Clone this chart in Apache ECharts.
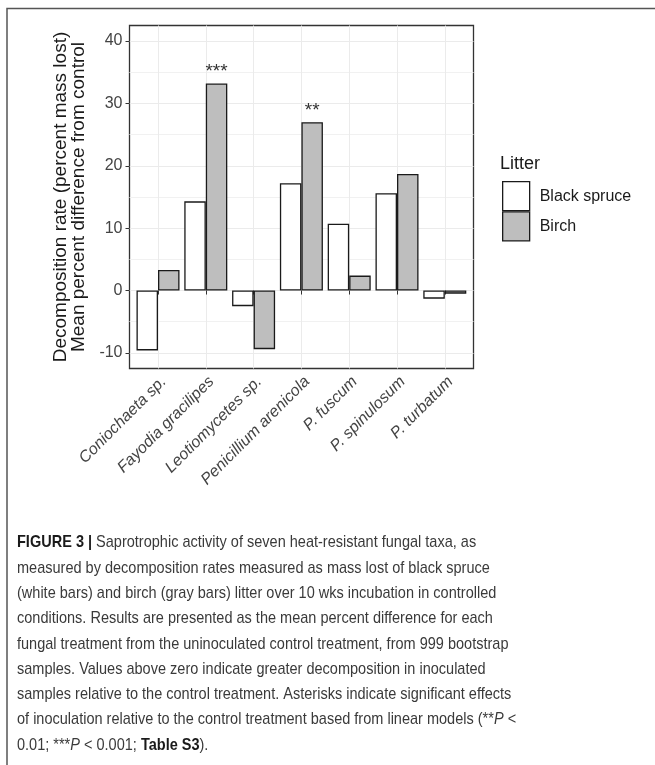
<!DOCTYPE html>
<html>
<head>
<meta charset="utf-8">
<script src="https://cdn.jsdelivr.net/npm/echarts@6/dist/echarts.min.js"></script>
<style>
html,body{margin:0;padding:0;background:#fff;}
#chart{width:655px;height:765px;}
</style>
</head>
<body>
<div id="chart"></div>
<script>
// ---- data ----
const categories = ['Coniochaeta sp.', 'Fayodia gracilipes', 'Leotiomycetes sp.', 'Penicillium arenicola', 'P. fuscum', 'P. spinulosum', 'P. turbatum'];
const blackSpruce = [-9.6, 14.3, -2.5, 17.2, 10.7, 15.6, -1.3];
const birch = [3.3, 33.2, -9.4, 27.0, 2.4, 18.7, -0.5];
const birchSignif = ['', '***', '', '**', '', '', ''];
const yTicks = [-10, 0, 10, 20, 30, 40];
const yMinorTicks = [-5, 5, 15, 25, 35];
const seriesNames = ['Black spruce', 'Birch'];
const legendTitle = 'Litter';
const yTitle = 'Decomposition rate (percent mass lost)\nMean percent difference from control';
const captionLines = [
  '{b|FIGURE 3 |} Saprotrophic activity of seven heat-resistant fungal taxa, as',
  'measured by decomposition rates measured as mass lost of black spruce',
  '(white bars) and birch (gray bars) litter over 10 wks incubation in controlled',
  'conditions. Results are presented as the mean percent difference for each',
  'fungal treatment from the uninoculated control treatment, from 999 bootstrap',
  'samples. Values above zero indicate greater decomposition in inoculated',
  'samples relative to the control treatment. Asterisks indicate significant effects',
  'of inoculation relative to the control treatment based from linear models (**{i|P} <',
  '0.01; ***{i|P} < 0.001; {b|Table S3}).'
];

const FONT = '"Liberation Sans", Arial, sans-serif';

const chart = echarts.init(document.getElementById('chart'), null, {renderer: 'canvas'});
const yMin = -12.5, yMax = 42.5;

const option = {
  backgroundColor: '#fff',
  animation: false,
  title: {
    text: legendTitle, left: 500, top: 155, padding: 0,
    textStyle: {fontFamily: FONT, fontSize: 18, fontWeight: 'normal', color: '#1a1a1a'}
  },
  legend: {
    data: seriesNames, orient: 'vertical', left: 502, top: 181, padding: 0,
    itemWidth: 27, itemHeight: 29, itemGap: 0, icon: 'rect',
    itemStyle: {borderColor: '#1a1a1a', borderWidth: 1.3},
    textStyle: {fontFamily: FONT, fontSize: 16, color: '#1a1a1a', padding: [0, 0, 0, 5]}
  },
  grid: [
    {left: 129.5, top: 25.5, width: 344, height: 343, show: true, borderColor: '#333', borderWidth: 1.3, backgroundColor: '#fff', containLabel: false},
    {left: 158, top: 25.5, width: 286.8, height: 343, show: false, containLabel: false}
  ],
  xAxis: [
    {gridIndex: 0, type: 'value', min: 0, max: 1, show: false},
    {gridIndex: 1, type: 'category', data: categories, boundaryGap: false,
     axisLine: {show: false},
     axisTick: {show: true, length: 4, lineStyle: {color: '#333', width: 1}},
     splitLine: {show: true, lineStyle: {color: '#EBEBEB', width: 1}},
     axisLabel: {interval: 0, rotate: 45, align: 'right', verticalAlign: 'top', margin: 5,
                 fontFamily: FONT, fontSize: 16, fontStyle: 'italic', color: '#444'}}
  ],
  yAxis: [
    {gridIndex: 0, type: 'value', min: yMin, max: yMax,
     name: yTitle, nameLocation: 'middle', nameGap: 29, nameRotate: 90,
     nameTextStyle: {fontFamily: FONT, fontSize: 19, lineHeight: 18, color: '#1a1a1a'},
     axisLine: {show: false},
     axisTick: {show: true, length: 4, customValues: yTicks, lineStyle: {color: '#333', width: 1}},
     axisLabel: {customValues: yTicks, margin: 7, fontFamily: FONT, fontSize: 16, color: '#444'},
     splitLine: {show: true, lineStyle: {color: '#EBEBEB', width: 1}}},
    {gridIndex: 1, type: 'value', min: yMin, max: yMax, show: false, splitLine: {show: false}},
    {gridIndex: 0, type: 'value', min: yMin, max: yMax,
     axisLine: {show: false},
     axisTick: {show: false, customValues: yMinorTicks},
     axisLabel: {show: false, customValues: yMinorTicks},
     splitLine: {show: true, lineStyle: {color: '#F1F1F1', width: 1}}}
  ],
  series: [
    {type: 'bar', name: seriesNames[0], xAxisIndex: 1, yAxisIndex: 1, data: blackSpruce,
     barWidth: '45%', barGap: '0%', clip: false,
     itemStyle: {color: '#FFFFFF', borderColor: '#1a1a1a', borderWidth: 1.3}},
    {type: 'bar', name: seriesNames[1], xAxisIndex: 1, yAxisIndex: 1, data: birch,
     barWidth: '45%', barGap: '0%', clip: false,
     itemStyle: {color: '#BEBEBE', borderColor: '#1a1a1a', borderWidth: 1.3},
     label: {show: true, position: 'top', distance: 2, formatter: p => birchSignif[p.dataIndex],
             fontFamily: FONT, fontSize: 19, color: '#333'}}
  ],
  graphic: [
    {type: 'polyline', silent: true, shape: {points: [[7, 765], [7, 8.5], [655, 8.5]]},
     style: {stroke: '#555', lineWidth: 1.5, fill: null}},
    {type: 'text', x: 17, y: 530, scaleX: 0.854, scaleY: 1, silent: true,
     style: {
       x: 0, y: 0, verticalAlign: 'top', align: 'left',
       text: captionLines.join('\n'),
       fontFamily: FONT, fontSize: 17, lineHeight: 25.3, fill: '#3a3a3a',
       rich: {
         b: {fontFamily: FONT, fontSize: 17, fontWeight: 'bold', lineHeight: 25.3, fill: '#1a1a1a'},
         i: {fontFamily: FONT, fontSize: 17, fontStyle: 'italic', lineHeight: 25.3, fill: '#3a3a3a'}
       }
     }}
  ]
};
chart.setOption(option);
</script>
</body>
</html>
